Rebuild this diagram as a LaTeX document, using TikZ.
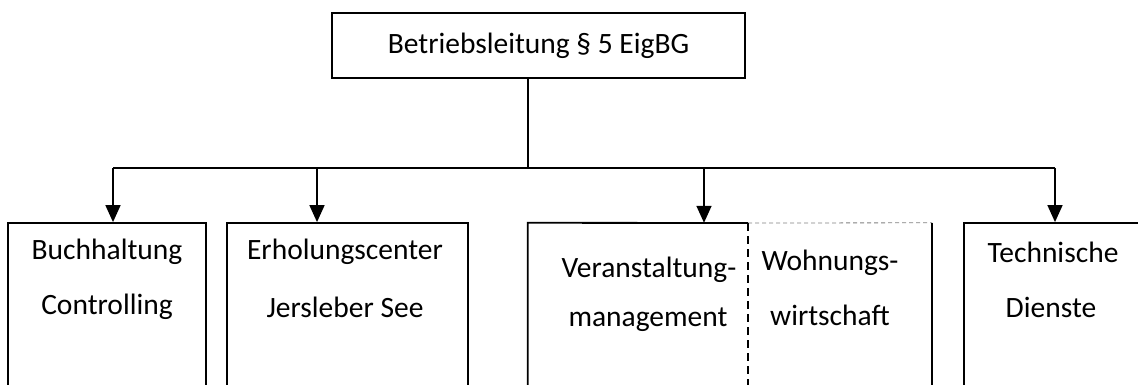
\documentclass[tikz,border=0pt]{standalone}
\usepackage{fontspec}
\setmainfont{Carlito}
\usetikzlibrary{arrows.meta}
\begin{document}
\begin{tikzpicture}[x=1pt,y=-1pt,
  box/.style={draw, line width=1.8pt, minimum height=177pt, inner sep=0pt},
  lbl/.style={font=\fontsize{29.5}{34}\selectfont, inner sep=0pt},
  conn/.style={line width=1.6pt},
  arr/.style={line width=1.6pt, -{Triangle[length=17pt,width=15pt]}}]
\useasboundingbox (0,0) rectangle (1138,385);
\clip (0,0) rectangle (1138,385);
% top box
\node[draw, line width=1.8pt, minimum width=413pt, minimum height=65pt, inner sep=0pt, lbl] (top) at (538.5,45.5) {Betriebsleitung § 5 EigBG};
% bottom boxes
\node[box, minimum width=198pt] (b1) at (107,311.5) {};
\node[box, minimum width=241pt] (b2) at (347.5,311.5) {};
\node[minimum width=404pt, minimum height=177pt, inner sep=0pt] (b3) at (730,311.5) {};
\node[box, minimum width=260pt] (b4) at (1094,311.5) {};
\coordinate (div) at (748,223);
\draw[line width=1.8pt] (b3.south west) -- (b3.north west) -- (div);
\draw[line width=0.8pt, gray, dashed, dash pattern=on 4pt off 3pt] (div) -- (b3.north east);
\draw[line width=1.8pt] (b3.north east) -- (b3.south east);
\draw[line width=1.3pt, dash pattern=on 8pt off 5pt] (div) -- (div |- b3.south);
% labels
\node[lbl] (t1a) at (107,252) {Buchhaltung};
\node[lbl] (t1b) at (107,307) {Controlling};
\node[lbl] (t2a) at (345,252) {Erholungscenter};
\node[lbl] (t2b) at (345,307) {Jersleber See};
\node[lbl] (t3a) at (649,270) {Veranstaltung-};
\node[lbl] (t3b) at (648,320) {management};
\node[lbl] (t4a) at (830,263) {Wohnungs-};
\node[lbl] (t4b) at (830,315) {wirtschaft};
\node[lbl] (t5a) at (1053,252) {Technische};
\node[lbl] (t5b) at (1051,307) {Dienste};
% connectors
\coordinate (bus) at (528,168);
\coordinate (j1) at (113,168);
\coordinate (j2) at (317,168);
\coordinate (j3) at (704,168);
\coordinate (j4) at (1055,168);
\draw[conn] (top.south -| bus) -- (bus);
\draw[conn] (j1) -- (j4);
\draw[arr] (j1) -- (j1 |- b1.north);
\draw[arr] (j2) -- (j2 |- b2.north);
\draw[arr] (j3) -- (j3 |- b3.north);
\draw[arr] (j4) -- (j4 |- b4.north);
\end{tikzpicture}
\end{document}
